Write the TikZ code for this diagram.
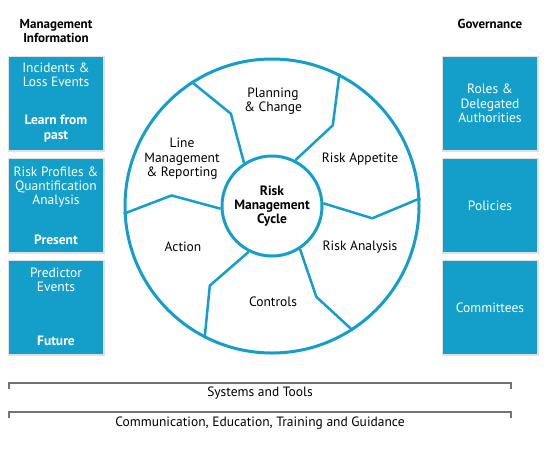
\documentclass[tikz,border=0pt]{standalone}
\usepackage{fontspec}
\setmainfont{PT Sans}
\definecolor{riskblue}{HTML}{139FCA}

\begin{document}
\begin{tikzpicture}[x=1pt, y=-1pt,
	infobox/.style={rectangle, fill=riskblue, minimum width=94pt, minimum height=93pt, inner sep=0pt,
		preaction={draw=black!12, line width=3pt}},
	boxtext/.style={text=white, align=center, font=\fontsize{13.5}{14.3}\selectfont},
	boxhead/.style={boxtext, font=\fontsize{13.5}{14.8}\selectfont\bfseries},
	heading/.style={align=center, font=\fontsize{13}{14}\selectfont\bfseries},
	stage/.style={align=center, font=\fontsize{13.5}{14.5}\selectfont},
	spoke/.style={draw=riskblue, line width=2.5pt, line join=round},
	bracket/.style={draw=black!55, line width=1.2pt},
	strip/.style={font=\fontsize{13.5}{14}\selectfont}]
	\useasboundingbox (0, 0) rectangle (548, 448);
	% Management information column
	\node(mgmthead) [heading] at (56, 31) {Management\\Information};
	\node(incidents) [infobox] at (56, 103.5) {};
	\node(riskprof) [infobox] at (56, 205.5) {};
	\node(predictor) [infobox] at (56, 307.5) {};
	\node(inctext) [boxtext] at (56, 75) {Incidents \&\\Loss Events};
	\node(past) [boxhead] at (56, 128.5) {Learn from\\past};
	\node(proftext) [boxtext] at (56, 187) {Risk Profiles \&\\Quantification\\Analysis};
	\node(present) [boxhead] at (56, 240) {Present};
	\node(predtext) [boxtext] at (56, 280) {Predictor\\Events};
	\node(future) [boxhead] at (56, 341) {Future};
	% Governance column
	\node(govhead) [heading] at (490, 24) {Governance};
	\node(roles) [infobox, boxtext] at (490, 103.5) {Roles \&\\Delegated\\Authorities};
	\node(policies) [infobox, boxtext] at (490, 205.5) {Policies};
	\node(committees) [infobox, boxtext] at (490, 307.5) {Committees};
	% The cycle
	\node(ring) [circle, draw=riskblue, line width=3pt, minimum size=294pt] at (272, 206) {};
	\node(hub) [circle, draw=riskblue, line width=3pt, minimum size=100pt, inner sep=0pt,
		align=center, font=\fontsize{13.5}{14}\selectfont\bfseries] at (272, 206) {Risk\\Management\\Cycle};
	\foreach \a/\k in {123/114, 63/53, 3/-7, -57/-64, -117/-128, 183/174}
		\draw[spoke] (hub.\a) -- ([shift={(\k:101pt)}]hub.center) -- (ring.\a);
	\node(planning) [stage] at (273, 101) {Planning\\\& Change};
	\node(appetite) [stage] at (360, 159) {Risk Appetite};
	\node(analysis) [stage] at (360, 247) {Risk Analysis};
	\node(controls) [stage] at (273, 302) {Controls};
	\node(action) [stage] at (183, 247) {Action};
	\node(linemgmt) [stage] at (182, 159) {Line\\Management\\\& Reporting};
	% Bottom strips
	\draw[bracket] (9, 389) -- (9, 383) -- (511, 383) -- (511, 389);
	\node(systems) [strip] at (260, 393) {Systems and Tools};
	\draw[bracket] (9, 418) -- (9, 412) -- (511, 412) -- (511, 418);
	\node(comms) [strip] at (260, 423) {Communication, Education, Training and Guidance};
\end{tikzpicture}
\end{document}
